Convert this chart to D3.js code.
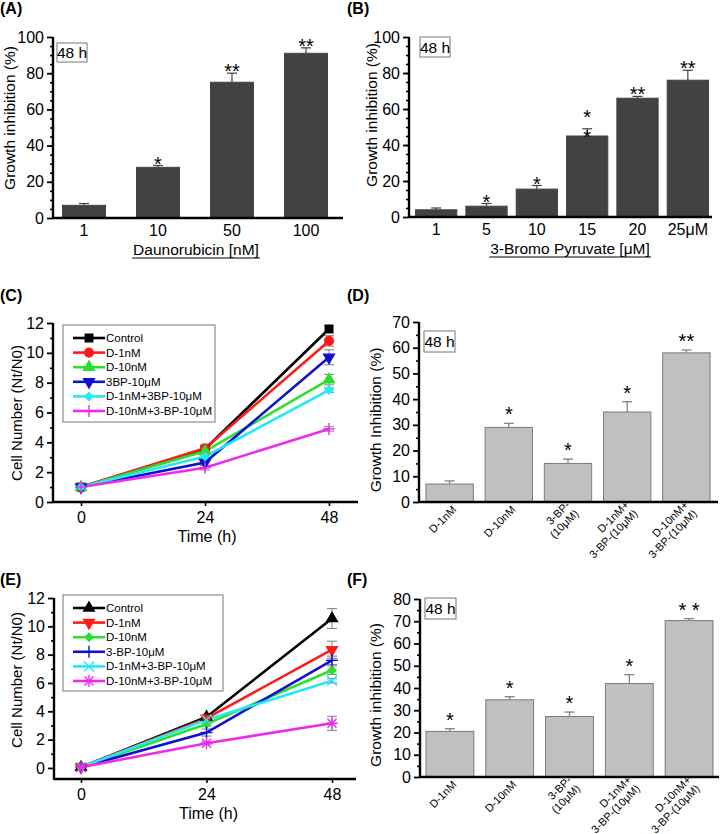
<!DOCTYPE html>
<html>
<head>
<meta charset="utf-8">
<script src="https://cdn.jsdelivr.net/npm/d3@7"></script>
<style>
  body { margin: 0; background: #fff; }
  svg text { font-family: "Liberation Sans", Arial, sans-serif; fill: #000; }
</style>
</head>
<body>
<svg id="fig" width="720" height="834"></svg>
<script>
// ---- data ----
// (A) daunorubicin dose response
const daunoDoses = ["1", "10", "50", "100"];
const daunoInhib = [7, 28, 75, 91];
const daunoErr = [1, 1, 5, 3];
const daunoStars = ["", "*", "**", "**"];

// (B) 3-bromo pyruvate dose response
const bpDoses = ["1", "5", "10", "15", "20", "25μM"];
const bpInhib = [4, 6, 15.5, 45, 66, 76];
const bpErr = [1, 1.5, 2, 4, 1, 5.5];
const bpStars = ["", "*", "*", "*:*", "**", "**"];

// (C) growth curves, first cell line
const hours = [0, 24, 48];
const groupsC = ["Control", "D-1nM", "D-10nM", "3BP-10μM", "D-1nM+3BP-10μM", "D-10nM+3-BP-10μM"];
const cellsC = [
  [1, 3.55, 11.6],
  [1, 3.6, 10.8],
  [1, 3.4, 8.2],
  [1, 2.65, 9.7],
  [1, 3.05, 7.5],
  [1, 2.3, 4.9]
];
const cellsErrC = [
  [0.1, 0.1, 0.2],
  [0.1, 0.1, 0.35],
  [0.1, 0.1, 0.35],
  [0.1, 0.2, 0.5],
  [0.1, 0.1, 0.15],
  [0.1, 0.15, 0.15]
];

// (D) combination, first cell line
const comboGroups = ["D-1nM", "D-10nM", "3-BP-:(10μM)", "D-1nM+:3-BP-(10μM)", "D-10nM+:3-BP-(10μM)"];
const comboInhibD = [7, 29, 15, 35, 58];
const comboErrD = [1.2, 1.6, 1.7, 4, 1.1];
const comboStarsD = ["", "*", "*", "*", "**"];

// (E) growth curves, second cell line
const groupsE = ["Control", "D-1nM", "D-10nM", "3-BP-10μM", "D-1nM+3-BP-10μM", "D-10nM+3-BP-10μM"];
const cellsE = [
  [0.05, 3.6, 10.55],
  [0.05, 3.5, 8.35],
  [0.05, 3.1, 6.9],
  [0.05, 2.5, 7.6],
  [0.05, 3.4, 6.15],
  [0.05, 1.75, 3.15]
];
const cellsErrE = [
  [0.05, 0.15, 0.7],
  [0.05, 0.15, 0.6],
  [0.05, 0.15, 0.3],
  [0.05, 0.25, 0.3],
  [0.05, 0.15, 0.15],
  [0.05, 0.1, 0.5]
];

// (F) combination, second cell line
const comboInhibF = [20.5, 34.7, 27.2, 42, 70.3];
const comboErrF = [1.2, 1.4, 2, 4, 0.9];
const comboStarsF = ["*", "*", "*", "*", "* *"];

// ---- styles ----
const lineColors = ["#000000", "#ff1a1a", "#2ede2e", "#1010d0", "#22eaf5", "#ee2aee"];
const markersC = ["square", "circle", "triUp", "triDown", "diamond", "plus"];
const markersE = ["triUp", "triDown", "diamond", "plus", "cross", "aster"];

const svg = d3.select("#fig");

function panelLabel(txt, x, y) {
  svg.append("text").attr("x", x).attr("y", y)
    .attr("font-size", 16).attr("font-weight", "bold").text(txt);
}

function timeBox(x, y, w, h) {
  svg.append("rect").attr("x", x).attr("y", y).attr("width", w).attr("height", h)
    .attr("fill", "#fff").attr("stroke", "#777").attr("stroke-width", 1);
  svg.append("text").attr("x", x + w / 2).attr("y", y + h / 2 + 5.5)
    .attr("text-anchor", "middle").attr("font-size", 15.5).text("48 h");
}

// left axis with major + minor ticks and a thick spine
function leftAxis(y, axisX, majors, minors, fs) {
  const g = svg.append("g").attr("transform", `translate(${axisX},0)`);
  g.append("g").call(d3.axisLeft(y).tickValues(minors).tickSize(3).tickFormat(""))
    .call(a => a.select(".domain").remove())
    .selectAll("line").attr("stroke", "#000").attr("stroke-width", 1.6);
  g.append("g").call(d3.axisLeft(y).tickValues(majors).tickSize(6).tickPadding(3))
    .call(a => a.select(".domain").remove())
    .call(a => a.selectAll("line").attr("stroke", "#000").attr("stroke-width", 1.8))
    .call(a => a.selectAll("text").attr("font-size", fs)
      .attr("font-family", "Liberation Sans, Arial, sans-serif").attr("fill", "#000"));
  const r = y.range();
  g.append("line").attr("x1", 0).attr("x2", 0).attr("y1", r[0] + 1).attr("y2", r[1])
    .attr("stroke", "#000").attr("stroke-width", 2.4);
}

function yTitle(txt, cx, cy, fs) {
  svg.append("text").attr("transform", `translate(${cx},${cy}) rotate(-90)`)
    .attr("text-anchor", "middle").attr("font-size", fs).text(txt);
}

function barPanel(cfg) {
  const y = d3.scaleLinear().domain([0, cfg.yMax]).range([cfg.y0, cfg.y1]);
  const x = d3.scaleBand().domain(cfg.cats).range([cfg.bandL, cfg.bandR])
    .paddingInner(cfg.pad).paddingOuter(cfg.pad / 2);

  // error bars (upper only) behind bars
  const eb = svg.append("g");
  cfg.vals.forEach((v, i) => {
    const cx = x(cfg.cats[i]) + x.bandwidth() / 2;
    const top = y(v + cfg.errs[i]);
    eb.append("line").attr("x1", cx).attr("x2", cx).attr("y1", y(v)).attr("y2", top)
      .attr("stroke", cfg.errColor).attr("stroke-width", 1.2);
    eb.append("line").attr("x1", cx - 5).attr("x2", cx + 5).attr("y1", top).attr("y2", top)
      .attr("stroke", cfg.errColor).attr("stroke-width", 1.2);
  });

  svg.append("g").selectAll("rect").data(cfg.vals).join("rect")
    .attr("x", (d, i) => x(cfg.cats[i]))
    .attr("y", d => y(d))
    .attr("width", x.bandwidth())
    .attr("height", d => y(0) - y(d))
    .attr("fill", cfg.fill)
    .attr("stroke", cfg.stroke).attr("stroke-width", 1);

  // significance stars
  cfg.vals.forEach((v, i) => {
    const s = cfg.stars[i];
    if (!s) return;
    const cx = x(cfg.cats[i]) + x.bandwidth() / 2;
    const top = y(v + cfg.errs[i]);
    const parts = s.split(":");
    parts.forEach((p, k) => {
      const base = parts.length > 1 ? top + 15 - (parts.length - 1 - k) * 20 : top + cfg.starOff;
      svg.append("text").attr("x", cx).attr("y", base).attr("text-anchor", "middle")
        .attr("font-size", 20).attr("xml:space", "preserve").text(p);
    });
  });

  leftAxis(y, cfg.axisX, cfg.majors, cfg.minors, cfg.tickFs);
  svg.append("line").attr("x1", cfg.axisX).attr("x2", cfg.xEnd).attr("y1", y(0)).attr("y2", y(0))
    .attr("stroke", "#000").attr("stroke-width", 2.4);

  if (cfg.rotLabels) {
    cfg.cats.forEach(c => {
      const cx = x(c) + x.bandwidth() / 2;
      const lines = c.split(":");
      const t = svg.append("text")
        .attr("transform", `translate(${cx + 5},${y(0) + 6}) rotate(-45)`)
        .attr("text-anchor", "end").attr("font-size", 11);
      lines.forEach((ln, k) => {
        t.append("tspan").attr("x", 0).attr("dy", k === 0 ? (lines.length > 1 ? "-0.3em" : "0.3em") : "1.1em")
          .text(ln);
      });
    });
  } else {
    cfg.cats.forEach(c => {
      svg.append("text").attr("x", x(c) + x.bandwidth() / 2).attr("y", y(0) + 18)
        .attr("text-anchor", "middle").attr("font-size", cfg.tickFs).text(c);
    });
    const tt = svg.append("text").attr("x", cfg.xTitleX).attr("y", y(0) + 37)
      .attr("text-anchor", "middle").attr("font-size", 15.5).text(cfg.xTitle);
    const bb = tt.node().getBBox();
    svg.append("line").attr("x1", bb.x - 1).attr("x2", bb.x + bb.width + 1)
      .attr("y1", y(0) + 40).attr("y2", y(0) + 40).attr("stroke", "#000").attr("stroke-width", 1);
  }
  yTitle(cfg.yTitle, cfg.yTitleX, cfg.yTitleY, 15.5);
}

function drawMarker(g, type, cx, cy, color) {
  const m = g.append("g").attr("transform", `translate(${cx},${cy})`);
  const sym = (t, size, rot) => m.append("path")
    .attr("d", d3.symbol().type(t).size(size)())
    .attr("transform", rot ? `rotate(${rot})` : null)
    .attr("fill", color);
  const seg = (x1, y1, x2, y2) => m.append("line").attr("x1", x1).attr("y1", y1)
    .attr("x2", x2).attr("y2", y2).attr("stroke", color).attr("stroke-width", 1.4);
  if (type === "square") sym(d3.symbolSquare, 80);
  else if (type === "circle") sym(d3.symbolCircle, 80);
  else if (type === "triUp") sym(d3.symbolTriangle, 75);
  else if (type === "triDown") sym(d3.symbolTriangle, 75, 180);
  else if (type === "diamond") sym(d3.symbolSquare, 50, 45);
  else if (type === "plus") { seg(-6, 0, 6, 0); seg(0, -6, 0, 6); }
  else if (type === "cross") { seg(-5, -5, 5, 5); seg(-5, 5, 5, -5); }
  else if (type === "aster") { seg(-6, 0, 6, 0); seg(0, -6, 0, 6); seg(-4.5, -4.5, 4.5, 4.5); seg(-4.5, 4.5, 4.5, -4.5); }
}

function linePanel(cfg) {
  const x = d3.scaleLinear().domain([0, 48]).range([cfg.x0, cfg.x48]);
  const y = d3.scaleLinear().domain([cfg.yMin, 12]).range([cfg.yBot, cfg.yTop]);

  // error bars
  const eg = svg.append("g");
  cfg.vals.forEach((ser, s) => ser.forEach((v, i) => {
    const e = cfg.errs[s][i];
    const cx = x(hours[i]);
    eg.append("line").attr("x1", cx).attr("x2", cx).attr("y1", y(v - e)).attr("y2", y(v + e))
      .attr("stroke", "#888").attr("stroke-width", 1.1);
    [v - e, v + e].forEach(w => eg.append("line").attr("x1", cx - 5).attr("x2", cx + 5)
      .attr("y1", y(w)).attr("y2", y(w)).attr("stroke", "#888").attr("stroke-width", 1.1));
  }));

  const line = d3.line().x((d, i) => x(hours[i])).y(d => y(d));
  cfg.vals.forEach((ser, s) => {
    svg.append("path").attr("d", line(ser)).attr("fill", "none")
      .attr("stroke", lineColors[s]).attr("stroke-width", 2.6);
  });
  const mg = svg.append("g");
  cfg.vals.forEach((ser, s) => ser.forEach((v, i) => drawMarker(mg, cfg.markers[s], x(hours[i]), y(v), lineColors[s])));

  leftAxis(y, cfg.axisX, d3.range(0, 13, 2), d3.range(1, 12, 2), 16);
  const ax = svg.append("g").attr("transform", `translate(0,${cfg.xAxisY})`);
  ax.append("line").attr("x1", cfg.axisX).attr("x2", cfg.xEnd).attr("stroke", "#000").attr("stroke-width", 2.4);
  ax.append("g").call(d3.axisBottom(x).tickValues(hours).tickSize(4).tickPadding(6))
    .call(a => a.select(".domain").remove())
    .call(a => a.selectAll("line").attr("stroke", "#000").attr("stroke-width", 1.6))
    .call(a => a.selectAll("text").attr("font-size", 16)
      .attr("font-family", "Liberation Sans, Arial, sans-serif").attr("fill", "#000"));
  svg.append("text").attr("x", (cfg.x0 + cfg.x48) / 2 + 2).attr("y", cfg.xAxisY + 40)
    .attr("text-anchor", "middle").attr("font-size", 16).text("Time (h)");
  yTitle("Cell Number (Nt/N0)", cfg.yTitleX, cfg.yTitleY, 15);

  // legend
  const lg = svg.append("g");
  lg.append("rect").attr("x", cfg.leg.x).attr("y", cfg.leg.y).attr("width", cfg.leg.w).attr("height", cfg.leg.h)
    .attr("fill", "#fff").attr("stroke", "#777").attr("stroke-width", 1);
  cfg.groups.forEach((name, s) => {
    const ly = cfg.leg.y + cfg.leg.first + s * cfg.leg.step;
    const lx = cfg.leg.x + 10;
    lg.append("line").attr("x1", lx).attr("x2", lx + 32).attr("y1", ly).attr("y2", ly)
      .attr("stroke", lineColors[s]).attr("stroke-width", 2.6);
    drawMarker(lg, cfg.markers[s], lx + 16, ly, lineColors[s]);
    lg.append("text").attr("x", lx + 33).attr("y", ly + 4).attr("font-size", 11.5).text(name);
  });
}

// ---- (A) ----
panelLabel("(A)", 0, 14);
barPanel({
  cats: daunoDoses, vals: daunoInhib, errs: daunoErr, stars: daunoStars,
  yMax: 100, y0: 218, y1: 37, bandL: 47, bandR: 343, pad: 0.42,
  axisX: 53, xEnd: 343, majors: d3.range(0, 101, 20), minors: d3.range(5, 100, 5), tickFs: 16,
  fill: "#424242", stroke: "#424242", errColor: "#424242", starOff: 5,
  xTitle: "Daunorubicin [nM]", xTitleX: 196, yTitle: "Growth inhibition (%)", yTitleX: 15, yTitleY: 118
});
timeBox(57, 43, 30, 19);

// ---- (B) ----
panelLabel("(B)", 347, 14);
barPanel({
  cats: bpDoses, vals: bpInhib, errs: bpErr, stars: bpStars,
  yMax: 100, y0: 217, y1: 37, bandL: 411, bandR: 713, pad: 0.18,
  axisX: 409, xEnd: 712, majors: d3.range(0, 101, 20), minors: d3.range(5, 100, 5), tickFs: 16,
  fill: "#424242", stroke: "#424242", errColor: "#424242", starOff: 5,
  xTitle: "3-Bromo Pyruvate [μM]", xTitleX: 570, yTitle: "Growth inhibition (%)", yTitleX: 377, yTitleY: 115
});
timeBox(420, 37, 30, 20);

// ---- (C) ----
panelLabel("(C)", 0, 301);
linePanel({
  vals: cellsC, errs: cellsErrC, groups: groupsC, markers: markersC,
  x0: 81, x48: 329, yMin: 0, yTop: 323, yBot: 502, axisX: 53, xEnd: 358, xAxisY: 502,
  yTitleX: 22, yTitleY: 413,
  leg: { x: 63, y: 325, w: 152, h: 97, first: 13, step: 14.6 }
});

// ---- (D) ----
panelLabel("(D)", 347, 301);
barPanel({
  cats: comboGroups, vals: comboInhibD, errs: comboErrD, stars: comboStarsD,
  yMax: 70, y0: 502, y1: 322, bandL: 420, bandR: 716, pad: 0.2,
  axisX: 419, xEnd: 718, majors: d3.range(0, 71, 10), minors: d3.range(5, 70, 10), tickFs: 16,
  fill: "#c0c0c0", stroke: "#7a7a7a", errColor: "#7a7a7a", starOff: -2, rotLabels: true,
  yTitle: "Growth Inhibition (%)", yTitleX: 381, yTitleY: 420
});
timeBox(424, 331, 31, 21);

// ---- (E) ----
panelLabel("(E)", 0, 585);
linePanel({
  vals: cellsE, errs: cellsErrE, groups: groupsE, markers: markersE,
  x0: 81, x48: 332, yMin: -0.78, yTop: 598, yBot: 779, axisX: 54, xEnd: 356, xAxisY: 779,
  yTitleX: 22, yTitleY: 680,
  leg: { x: 63, y: 595, w: 160, h: 96, first: 13, step: 14.6 }
});

// ---- (F) ----
panelLabel("(F)", 347, 585);
barPanel({
  cats: comboGroups, vals: comboInhibF, errs: comboErrF, stars: comboStarsF,
  yMax: 80, y0: 777, y1: 599, bandL: 420, bandR: 719, pad: 0.2,
  axisX: 420, xEnd: 719, majors: d3.range(0, 81, 10), minors: d3.range(5, 80, 10), tickFs: 16,
  fill: "#c0c0c0", stroke: "#7a7a7a", errColor: "#7a7a7a", starOff: -2, rotLabels: true,
  yTitle: "Growth inhibition (%)", yTitleX: 381, yTitleY: 695
});
timeBox(425, 598, 31, 21);
</script>
</body>
</html>
